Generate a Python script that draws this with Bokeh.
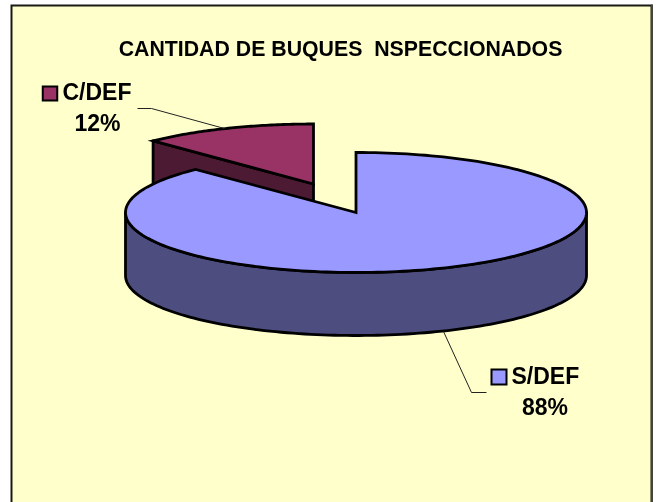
import numpy as np
from bokeh.plotting import figure
from bokeh.embed import file_html
from bokeh.resources import INLINE
from bokeh.core.properties import value

categories = ["S/DEF", "C/DEF"]
shares = [87.75, 12.25]
labels = ["88%", "12%"]
title = "CANTIDAD DE BUQUES \u00a0NSPECCIONADOS"

W, H = 657, 502
RX, RY, DEPTH = 230.5, 60, 63
BLUE_C = (355.5, 212)
RED_C = (313, 183.5)
FONT = value("Liberation Sans")
LW = 2.8

p = figure(width=W, height=H, x_range=(0, W), y_range=(H, 0), toolbar_location=None,
           output_backend="svg", min_border=0, outline_line_color=None,
           background_fill_color="white", border_fill_color="white",
           styles={"position": "fixed", "left": "0px", "top": "0px"})
p.xaxis.visible = False
p.yaxis.visible = False
p.grid.visible = False

# chart area
p.patch([11, 651, 651, 11], [5, 5, 510, 510], fill_color="#FFFFCC", line_color="#1a1a14", line_width=2, line_join="miter")
p.line([651.5, 651.5], [4, 510], line_color="#44443c", line_width=2)

def pt(c, t):
    """t: clockwise pie angle in radians from 12 o'clock"""
    return c[0] + RX * np.sin(t), c[1] - RY * np.cos(t)

total = sum(shares)
blue_end = 2 * np.pi * shares[0] / total

# red slice (exploded), drawn first
t_red = np.linspace(blue_end, 2 * np.pi, 60)
rx_, ry_ = pt(RED_C, t_red)
p.patch([rx_[0], RED_C[0], RED_C[0], rx_[0]],
        [ry_[0], RED_C[1], RED_C[1] + DEPTH, ry_[0] + DEPTH],
        fill_color="#4D1A33", line_color="black", line_width=LW, line_join="round")
p.patch(list(rx_) + [RED_C[0]], list(ry_) + [RED_C[1]],
        fill_color="#993366", line_color="black", line_width=LW, line_join="miter")

# blue slice side wall
t_side = np.linspace(np.pi / 2, 3 * np.pi / 2, 120)
sx, sy = pt(BLUE_C, t_side)
p.patch(list(sx) + list(sx[::-1]), list(sy) + list(sy[::-1] + DEPTH),
        fill_color="#4D4D80", line_color="black", line_width=LW, line_join="round")
# blue slice top
t_blue = np.linspace(0, blue_end, 200)
bx, by = pt(BLUE_C, t_blue)
p.patch(list(bx) + [BLUE_C[0]], list(by) + [BLUE_C[1]],
        fill_color="#9999FF", line_color="black", line_width=LW, line_join="miter")

# leader lines
p.line([137, 151, 224], [108, 108, 128], line_color="#222222", line_width=1)
p.line([443, 471, 486], [331, 392, 392], line_color="#222222", line_width=1)

# title
p.text([340], [48.5], text=[title], text_font=FONT, text_font_style="bold", text_font_size="21.3px",
       text_align="center", text_baseline="middle", text_color="black")

# data labels
p.rect([49.5], [93], width=14.5, height=14, fill_color="#993366", line_color="black", line_width=2, line_join="miter")
p.text([62], [91.5], text=[categories[1]], text_font=FONT, text_font_style="bold", text_font_size="23px",
       text_align="left", text_baseline="middle", text_color="black")
p.text([97], [122.5], text=[labels[1]], text_font=FONT, text_font_style="bold", text_font_size="23px",
       text_align="center", text_baseline="middle", text_color="black")

p.rect([498.5], [376.5], width=15, height=15, fill_color="#9999FF", line_color="black", line_width=2, line_join="miter")
p.text([511], [375.5], text=[categories[0]], text_font=FONT, text_font_style="bold", text_font_size="23px",
       text_align="left", text_baseline="middle", text_color="black")
p.text([544.5], [406.5], text=[labels[0]], text_font=FONT, text_font_style="bold", text_font_size="23px",
       text_align="center", text_baseline="middle", text_color="black")

open("out.html", "w").write(file_html(p, INLINE))
